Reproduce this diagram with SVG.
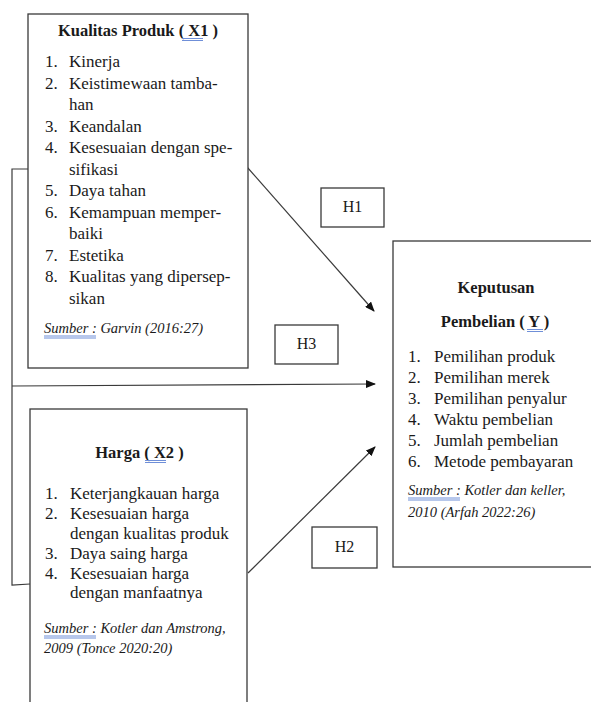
<svg xmlns="http://www.w3.org/2000/svg" width="591" height="702" viewBox="0 0 591 702">
<style>
.box{fill:#fff;stroke:#3a3a3a;stroke-width:1.3}
.ln{fill:none;stroke:#3a3a3a;stroke-width:1.2}
.t{font-family:"Liberation Serif","Times New Roman",serif;font-size:17px;fill:#1a1a1a}
.b{font-family:"Liberation Serif","Times New Roman",serif;font-size:16.5px;font-weight:bold;fill:#1a1a1a}
.s{font-family:"Liberation Serif","Times New Roman",serif;font-size:14.5px;font-style:italic;fill:#1a1a1a}
.h{font-family:"Liberation Serif","Times New Roman",serif;font-size:16px;fill:#1a1a1a}
.sp{stroke:#6f8fd8;stroke-width:1;fill:none}
</style>
<defs>
<marker id="ah" markerWidth="10" markerHeight="8" refX="9" refY="4" orient="auto" markerUnits="userSpaceOnUse">
<path d="M0,0 L10,4 L0,8 Z" fill="#111"/>
</marker>
</defs>
<rect width="591" height="702" fill="#fff"/>
<g id="connectors">
<polyline class="ln" points="28,169 12,169 12,585 30,584"/>
<line class="ln" x1="12" y1="386" x2="375" y2="384" marker-end="url(#ah)"/>
<line class="ln" x1="247" y1="167" x2="374" y2="311" marker-end="url(#ah)"/>
<line class="ln" x1="248" y1="573" x2="375" y2="447" marker-end="url(#ah)"/>
</g>
<g id="x1">
<rect class="box" x="28" y="14" width="220" height="354"/>
<text class="b" x="138" y="36" text-anchor="middle">Kualitas Produk ( X1 )</text>
<path class="sp" d="M182,38.5 H203 M182,40.5 H203"/>
<g class="t">
<text x="45" y="67">1.</text><text x="69" y="67">Kinerja</text>
<text x="45" y="88.5">2.</text><text x="69" y="88.5">Keistimewaan tamba-</text>
<text x="69" y="110">han</text>
<text x="45" y="131.5">3.</text><text x="69" y="131.5">Keandalan</text>
<text x="45" y="153">4.</text><text x="69" y="153">Kesesuaian dengan spe-</text>
<text x="69" y="174.5">sifikasi</text>
<text x="45" y="196">5.</text><text x="69" y="196">Daya tahan</text>
<text x="45" y="217.5">6.</text><text x="69" y="217.5">Kemampuan memper-</text>
<text x="69" y="239">baiki</text>
<text x="45" y="260.5">7.</text><text x="69" y="260.5">Estetika</text>
<text x="45" y="282">8.</text><text x="69" y="282">Kualitas yang dipersep-</text>
<text x="69" y="303.5">sikan</text>
</g>
<text class="s" x="44" y="333">Sumber : Garvin (2016:27)</text>
<path class="sp" d="M44,336 H96 M44,338 H96"/>
</g>
<g id="x2">
<rect class="box" x="30" y="409" width="217" height="300"/>
<text class="b" x="139.5" y="458" text-anchor="middle">Harga ( X2 )</text>
<path class="sp" d="M145,460.5 H166 M145,462.5 H166"/>
<g class="t">
<text x="45" y="499">1.</text><text x="70" y="499">Keterjangkauan harga</text>
<text x="45" y="519">2.</text><text x="70" y="519">Kesesuaian harga</text>
<text x="70" y="539">dengan kualitas produk</text>
<text x="45" y="559">3.</text><text x="70" y="559">Daya saing harga</text>
<text x="45" y="578.5">4.</text><text x="70" y="578.5">Kesesuaian harga</text>
<text x="70" y="598">dengan manfaatnya</text>
</g>
<text class="s" x="44" y="633">Sumber : Kotler dan Amstrong,</text>
<text class="s" x="44" y="653">2009 (Tonce 2020:20)</text>
<path class="sp" d="M44,636 H96 M44,638 H96"/>
</g>
<g id="y">
<rect class="box" x="393" y="241" width="210" height="326"/>
<text class="b" x="496" y="293" text-anchor="middle">Keputusan</text>
<text class="b" x="495" y="327" text-anchor="middle">Pembelian ( Y )</text>
<path class="sp" d="M527,329.5 H543 M527,331.5 H543"/>
<g class="t">
<text x="408" y="362">1.</text><text x="434" y="362">Pemilihan produk</text>
<text x="408" y="383">2.</text><text x="434" y="383">Pemilihan merek</text>
<text x="408" y="404">3.</text><text x="434" y="404">Pemilihan penyalur</text>
<text x="408" y="425">4.</text><text x="434" y="425">Waktu pembelian</text>
<text x="408" y="446">5.</text><text x="434" y="446">Jumlah pembelian</text>
<text x="408" y="467">6.</text><text x="434" y="467">Metode pembayaran</text>
</g>
<text class="s" x="408" y="495">Sumber : Kotler dan keller,</text>
<text class="s" x="408" y="517">2010 (Arfah 2022:26)</text>
<path class="sp" d="M408,498 H460 M408,500 H460"/>
</g>
<g id="h1">
<rect class="box" x="321" y="188" width="63" height="39"/>
<text class="h" x="352.5" y="212" text-anchor="middle">H1</text>
</g>
<g id="h3">
<rect class="box" x="275" y="325" width="63" height="39"/>
<text class="h" x="306.5" y="349" text-anchor="middle">H3</text>
</g>
<g id="h2">
<rect class="box" x="312" y="527" width="65" height="41"/>
<text class="h" x="344.5" y="552" text-anchor="middle">H2</text>
</g>
</svg>
